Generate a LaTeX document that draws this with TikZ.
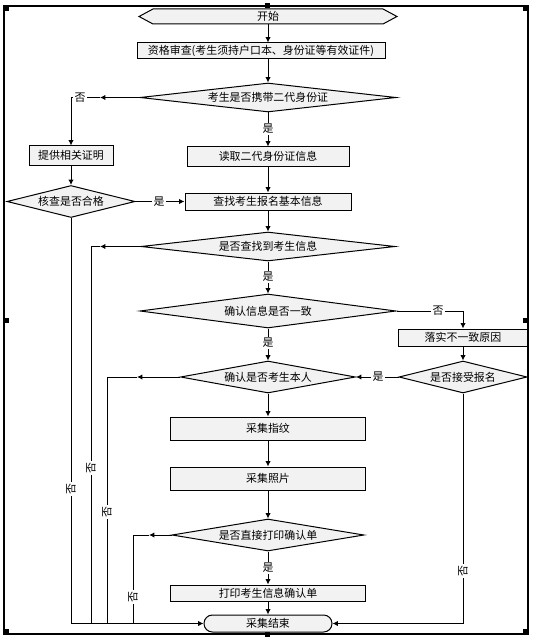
\documentclass[tikz,border=0pt]{standalone}
\usepackage{fontspec}
\setmainfont{Noto Sans CJK SC}
\usetikzlibrary{shapes.geometric,arrows.meta}
\definecolor{boxfill}{RGB}{242,242,242}
\begin{document}
\begin{tikzpicture}[x=0.75pt,y=-0.75pt,
  every node/.style={font=\fontsize{8.2pt}{10pt}\selectfont, inner sep=0pt},
  box/.style={draw, fill=boxfill, line width=0.75pt, rectangle},
  dec/.style={draw, fill=boxfill, diamond, line width=0.75pt},
  lbl/.style={fill=white, inner sep=1pt},
  conn/.style={line width=0.75pt},
  arr/.style={conn, -{Latex[length=4pt,width=4pt]}},
]
\useasboundingbox (0,0) rectangle (533,638);
% frame and handles
\draw[line width=1.2pt] (4,6) rectangle (528,634);
\fill (4,6) rectangle (9,11);
\fill (523,6) rectangle (528,11);
\fill (4,629) rectangle (9,634);
\fill (523,629) rectangle (528,634);
\fill (4,318) rectangle (9,323);
\fill (523,318) rectangle (528,323);
\fill (265,3) rectangle (270,8);
\fill (265,632) rectangle (270,637);
% start shape
\draw[fill=boxfill, line width=0.75pt] (139,16.5) -- (153,9) -- (383,9) -- (397,16.5) -- (383,24) -- (153,24) -- cycle;
\node[minimum width=258*0.75pt, minimum height=15*0.75pt] (start) at (268,16.5) {开始};
% nodes
\node[box, minimum width=248*0.75pt, minimum height=16*0.75pt] (b1) at (261,51) {资格审查(考生须持户口本、身份证等有效证件)};
\node[dec, aspect=8.8, minimum width=256*0.75pt, minimum height=29*0.75pt] (d1) at (268,97.5) {考生是否携带二代身份证};
\node[box, minimum width=84*0.75pt, minimum height=19*0.75pt] (bprov) at (71,155.5) {提供相关证明};
\node[box, minimum width=162*0.75pt, minimum height=19*0.75pt] (bread) at (268,156.5) {读取二代身份证信息};
\node[dec, aspect=4, minimum width=128*0.75pt, minimum height=32*0.75pt] (dcheck) at (71,201.5) {核查是否合格};
\node[box, minimum width=166*0.75pt, minimum height=17*0.75pt] (bfind) at (268,201.5) {查找考生报名基本信息};
\node[dec, aspect=8.8, minimum width=254*0.75pt, minimum height=29*0.75pt] (dfound) at (268,246.5) {是否查找到考生信息};
\node[dec, aspect=7.5, minimum width=256*0.75pt, minimum height=34*0.75pt] (dcons) at (268,311) {确认信息是否一致};
\node[box, minimum width=129*0.75pt, minimum height=17*0.75pt] (breason) at (463,337.5) {落实不一致原因};
\node[dec, aspect=5.5, minimum width=175*0.75pt, minimum height=32*0.75pt] (dself) at (268,377) {确认是否考生本人};
\node[dec, aspect=4, minimum width=128*0.75pt, minimum height=32*0.75pt] (daccept) at (463,377) {是否接受报名};
\node[box, minimum width=195*0.75pt, minimum height=23*0.75pt] (bfp) at (268,428.5) {采集指纹};
\node[box, minimum width=195*0.75pt, minimum height=23*0.75pt] (bphoto) at (268,478.5) {采集照片};
\node[dec, aspect=6, minimum width=192*0.75pt, minimum height=32*0.75pt] (dprint) at (268,535) {是否直接打印确认单};
\node[box, minimum width=195*0.75pt, minimum height=16*0.75pt] (bpb) at (268,593) {打印考生信息确认单};
\node[box, rounded corners=6.3pt, minimum width=128*0.75pt, minimum height=17*0.75pt] (end) at (268,623.5) {采集结束};
% mid-arrow coordinates
\coordinate (m1) at (100,97.5);
\coordinate (mfound) at (100,246.5);
\coordinate (cfound) at (91,246.5);
\coordinate (mself) at (137,377);
\coordinate (cself) at (107,377);
\coordinate (mprint) at (149,535);
\coordinate (cprint) at (133,535);
% connectors
\draw[arr] (start) -- (start |- b1.north);
\draw[arr] (start |- b1.south) -- (d1.north);
\draw[arr] (d1.west) -- (m1);
\draw[arr] (m1) -| (bprov.north);
\draw[arr] (d1.south) -- (bread.north);
\draw[arr] (bprov.south) -- (dcheck.north);
\draw[arr] (bread.south) -- (bfind.north);
\draw[arr] (dcheck.east) -- (bfind.west);
\draw[arr] (bfind.south) -- (dfound.north);
\draw[arr] (dfound.west) -- (mfound);
\draw[conn] (mfound) -- (cfound) -- (cfound |- end.west);
\draw[arr] (dfound.south) -- (dcons.north);
\draw[arr] (dcons.east) -| (breason.north);
\draw[arr] (dcons.south) -- (dself.north);
\draw[arr] (breason.south) -- (daccept.north);
\draw[arr] (daccept.west) -- (dself.east);
\draw[arr] (daccept.south) |- (end.east);
\draw[arr] (dself.west) -- (mself);
\draw[conn] (mself) -- (cself) -- (cself |- end.west);
\draw[arr] (dself.south) -- (bfp.north);
\draw[arr] (bfp.south) -- (bphoto.north);
\draw[arr] (bphoto.south) -- (dprint.north);
\draw[arr] (dprint.west) -- (mprint);
\draw[conn] (mprint) -- (cprint) -- (cprint |- end.west);
\draw[arr] (dprint.south) -- (bpb.north);
\draw[arr] (bpb.south) -- (end.north);
\draw[arr] (dcheck.south) |- (end.west);
% labels
\node[lbl] (l1) at (80,97.5) {否};
\node[lbl] (l2) at (268,129) {是};
\node[lbl] (l3) at (159,201.5) {是};
\node[lbl] (l4) at (268,277) {是};
\node[lbl] (l5) at (438,311) {否};
\node[lbl] (l6) at (268,343) {是};
\node[lbl] (l7) at (378,377) {是};
\node[lbl] (l8) at (268,568) {是};
\node[lbl, rotate=90] (l9) at (71,489) {否};
\node[lbl, rotate=90] (l10) at (91,468) {否};
\node[lbl, rotate=90] (l11) at (107,512) {否};
\node[lbl, rotate=90] (l12) at (133,597) {否};
\node[lbl, rotate=90] (l13) at (463,571) {否};
\end{tikzpicture}
\end{document}
